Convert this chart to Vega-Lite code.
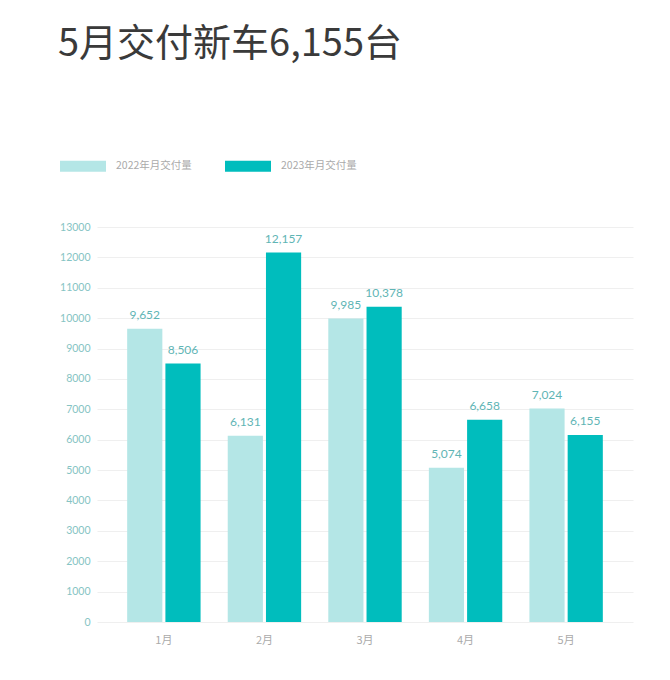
{
  "$schema": "https://vega.github.io/schema/vega-lite/v6.json",
  "width": 536,
  "height": 395,
  "autosize": "none",
  "padding": {"left": 97, "top": 227, "right": 37, "bottom": 58},
  "background": "white",
  "view": {"stroke": null},
  "title": {
    "text": "5月交付新车6,155台",
    "anchor": "start",
    "frame": "group",
    "dx": -39,
    "offset": 79,
    "font": "Noto Sans CJK SC",
    "fontSize": 38,
    "fontWeight": "normal",
    "color": "#3a3a3a"
  },
  "data": {
    "values": [
      {"month": "1月", "series": "2022年月交付量", "value": 9652},
      {"month": "1月", "series": "2023年月交付量", "value": 8506},
      {"month": "2月", "series": "2022年月交付量", "value": 6131},
      {"month": "2月", "series": "2023年月交付量", "value": 12157},
      {"month": "3月", "series": "2022年月交付量", "value": 9985},
      {"month": "3月", "series": "2023年月交付量", "value": 10378},
      {"month": "4月", "series": "2022年月交付量", "value": 5074},
      {"month": "4月", "series": "2023年月交付量", "value": 6658},
      {"month": "5月", "series": "2022年月交付量", "value": 7024},
      {"month": "5月", "series": "2023年月交付量", "value": 6155}
    ]
  },
  "encoding": {
    "x": {
      "field": "month",
      "type": "nominal",
      "sort": null,
      "title": null,
      "scale": {"paddingInner": 0.27, "paddingOuter": 0.3},
      "axis": {
        "labelAngle": 0,
        "ticks": false,
        "domain": false,
        "labelPadding": 12,
        "labelColor": "#aaaaaa",
        "labelFontSize": 11,
        "labelFont": "Noto Sans CJK SC"
      }
    },
    "xOffset": {
      "field": "series",
      "type": "nominal",
      "scale": {"paddingInner": 0.08}
    },
    "y": {
      "field": "value",
      "type": "quantitative",
      "title": null,
      "scale": {"domain": [0, 13000]},
      "axis": {
        "values": [0, 1000, 2000, 3000, 4000, 5000, 6000, 7000, 8000, 9000, 10000, 11000, 12000, 13000],
        "format": "d",
        "ticks": false,
        "domain": false,
        "labelPadding": 7,
        "labelColor": "#86c4c4",
        "labelFontSize": 10.5,
        "labelFont": "Lato",
        "gridColor": "#efefef"
      }
    }
  },
  "layer": [
    {
      "mark": {"type": "bar"},
      "encoding": {
        "color": {
          "field": "series",
          "type": "nominal",
          "scale": {
            "domain": ["2022年月交付量", "2023年月交付量"],
            "range": ["#b4e6e6", "#00bdbd"]
          },
          "legend": {
            "title": null,
            "orient": "none",
            "direction": "horizontal",
            "legendX": -37,
            "legendY": -84,
            "symbolType": "M-1,-0.24H1V0.24H-1Z",
            "symbolSize": 2116,
            "symbolStrokeWidth": 0,
            "labelOffset": 10,
            "columnPadding": 33,
            "labelColor": "#aaaaaa",
            "labelFontSize": 10.5,
            "labelFont": "Noto Sans CJK SC"
          }
        }
      }
    },
    {
      "mark": {
        "type": "text",
        "baseline": "bottom",
        "dy": -7,
        "fontSize": 12,
        "font": "Lato",
        "color": "#5fb5b5"
      },
      "encoding": {
        "text": {"field": "value", "type": "quantitative", "format": ","}
      }
    }
  ]
}
